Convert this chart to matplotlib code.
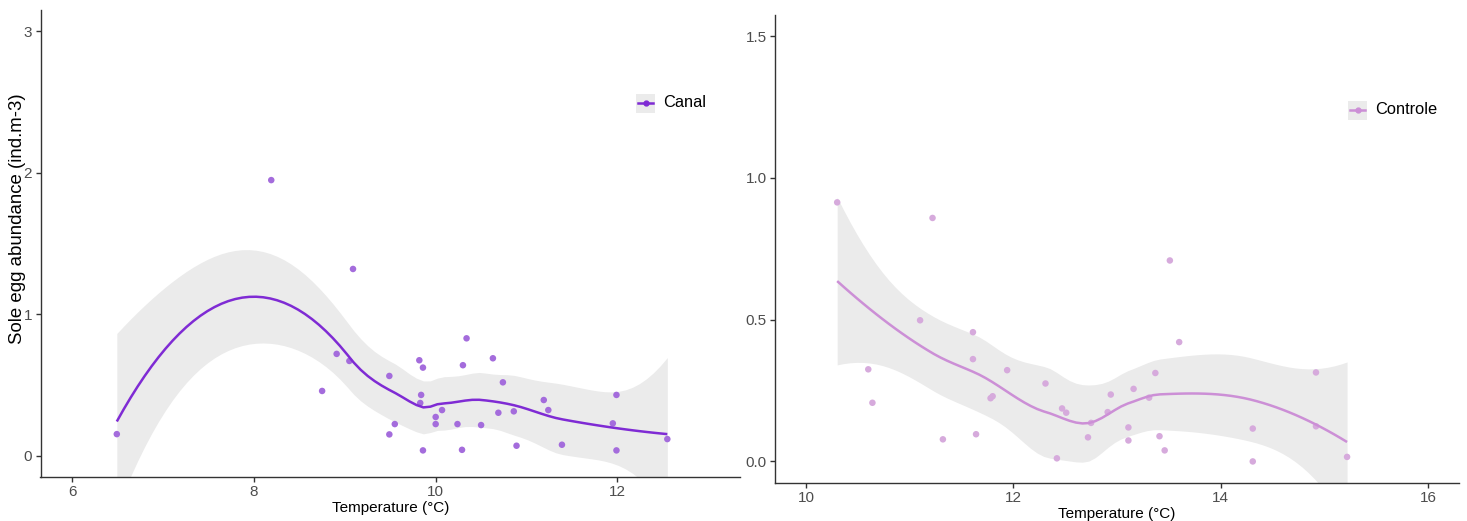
import numpy as np
import matplotlib
matplotlib.use("Agg")
import matplotlib.pyplot as plt
from matplotlib.patches import Rectangle
from matplotlib.lines import Line2D

plt.rcParams['font.family'] = ['Liberation Sans', 'DejaVu Sans']

# ---------------- data ----------------
canal_temp = [6.49, 8.19, 9.09, 8.91, 9.05, 8.75, 10.34, 9.49, 9.82, 9.86, 10.30, 10.63,
              10.74, 9.84, 9.83, 10.07, 10.00, 10.00, 9.55, 9.49, 9.86, 10.24, 10.50, 10.29,
              10.69, 10.86, 11.19, 11.24, 10.89, 11.39, 11.99, 11.95, 11.99, 12.55]
canal_abund = [0.153, 1.948, 1.32, 0.72, 0.67, 0.458, 0.83, 0.564, 0.675, 0.623, 0.64, 0.689,
               0.519, 0.43, 0.373, 0.323, 0.274, 0.224, 0.224, 0.151, 0.038, 0.224, 0.217, 0.042,
               0.304, 0.314, 0.394, 0.323, 0.071, 0.078, 0.43, 0.229, 0.038, 0.118]

controle_temp = [10.30, 11.22, 11.10, 11.61, 11.61, 10.60, 10.64, 11.94, 12.31, 11.78, 11.80,
                 11.32, 11.64, 12.47, 12.51, 12.42, 12.75, 12.72, 12.94, 12.91, 13.11, 13.11,
                 13.51, 13.60, 13.37, 13.16, 13.31, 13.41, 13.46, 14.31, 14.31, 14.92, 14.92, 15.22]
controle_abund = [0.914, 0.859, 0.498, 0.456, 0.361, 0.325, 0.207, 0.322, 0.275, 0.223, 0.230,
                  0.078, 0.096, 0.187, 0.172, 0.011, 0.136, 0.085, 0.236, 0.174, 0.120, 0.074,
                  0.709, 0.421, 0.312, 0.256, 0.225, 0.089, 0.039, 0.116, 0.0, 0.314, 0.124, 0.016]

left_xticks = [6, 8, 10, 12]
left_yticks = [0, 1, 2, 3]
right_xticks = [10, 12, 14, 16]
right_yticks = [0.0, 0.5, 1.0, 1.5]
right_ytick_labels = ["0.0", "0.5", "1.0", "1.5"]


# ------------- loess (span 0.75, degree 2, kd-tree interpolation like R) -------------
def _local_rows(x, x0, q):
    d = np.abs(x - x0)
    h = np.sort(d)[q - 1]
    u = d / h
    w = np.where(u < 1, (1 - u ** 3) ** 3, 0.0)
    X = np.column_stack([np.ones_like(x), x - x0, (x - x0) ** 2])
    A = X.T @ (w[:, None] * X)
    B = np.linalg.solve(A, X.T * w)
    return B[0], B[1]          # operator rows for value and slope at x0


def _kd_vertices(x, fc):
    xs = np.sort(x)
    n = len(xs)
    lo, hi = xs[0], xs[-1]
    mu = 0.005 * max(hi - lo, 1e-10)
    verts = {lo - mu, hi + mu}

    def split(l, u, vlo, vhi):           # 1-based inclusive indices
        if u - l + 1 <= fc:
            return
        m = (l + u) // 2
        off = 0
        while l <= m + off < u:
            if xs[m + off - 1] == xs[m + off]:
                off = -off
                if off >= 0:
                    off += 1
            else:
                m = m + off
                break
        s = xs[m - 1]
        if s == vlo or s == vhi:
            return
        verts.add(s)
        split(l, m, vlo, s)
        split(m + 1, u, s, vhi)

    split(1, n, lo - mu, hi + mu)
    return np.array(sorted(verts))


def _interp_rows(x, verts, V0, V1, xe):
    out = []
    for x0 in xe:
        j = np.searchsorted(verts, x0) - 1
        j = min(max(j, 0), len(verts) - 2)
        a, b = verts[j], verts[j + 1]
        dv = b - a
        hh = (x0 - a) / dv
        phi0 = (1 - hh) ** 2 * (1 + 2 * hh)
        phi1 = hh ** 2 * (3 - 2 * hh)
        psi0 = hh * (1 - hh) ** 2
        psi1 = -hh ** 2 * (1 - hh)
        out.append(phi0 * V0[j] + phi1 * V0[j + 1] + (psi0 * V1[j] + psi1 * V1[j + 1]) * dv)
    return np.array(out)


def loess_smooth(x, y, span=0.75, npts=80):
    x = np.asarray(x, float)
    y = np.asarray(y, float)
    n = len(x)
    q = int(np.floor(n * span))
    fc = int(np.floor(n * span * 0.2))
    verts = _kd_vertices(x, fc)
    V0, V1 = [], []
    for v in verts:
        r0, r1 = _local_rows(x, v, q)
        V0.append(r0)
        V1.append(r1)
    V0, V1 = np.array(V0), np.array(V1)
    L = _interp_rows(x, verts, V0, V1, x)
    r = y - L @ y
    IL = np.eye(n) - L
    M = IL.T @ IL
    d1 = np.trace(M)
    d2 = np.trace(M @ M)
    sigma = np.sqrt(np.sum(r ** 2) / d1)
    df = d1 ** 2 / d2
    z = 1.959964
    g1 = (z ** 3 + z) / 4
    g2 = (5 * z ** 5 + 16 * z ** 3 + 3 * z) / 96
    g3 = (3 * z ** 7 + 19 * z ** 5 + 17 * z ** 3 - 15 * z) / 384
    tq = z + g1 / df + g2 / df ** 2 + g3 / df ** 3
    xe = np.linspace(x.min(), x.max(), npts)
    rows = _interp_rows(x, verts, V0, V1, xe)
    fit = rows @ y
    se = sigma * np.sqrt(np.sum(rows ** 2, axis=1))
    return xe, fit, fit - tq * se, fit + tq * se


W, H = 1467, 521
fig = plt.figure(figsize=(W / 100, H / 100), dpi=100)


def fx(px):
    return px / W


def fy(py):
    return 1 - py / H


def make_axes(l, r, t, b):
    return fig.add_axes([fx(l), fy(b), fx(r) - fx(l), fy(t) - fy(b)])


ax1 = make_axes(40.5, 740, 10, 477)
ax2 = make_axes(775, 1459, 15, 482.7)

tick_col = '#4D4D4D'
band_col = '#EBEBEB'


def style(ax):
    for s in ['top', 'right']:
        ax.spines[s].set_visible(False)
    for s in ['left', 'bottom']:
        ax.spines[s].set_color('#333333')
        ax.spines[s].set_linewidth(1.0)
    ax.tick_params(axis='both', colors='#333333', length=3.5, width=1.0,
                   labelcolor=tick_col, labelsize=11, pad=2.5)
    ax.set_facecolor('white')


def draw_panel(ax, x, y, line_col, pt_col):
    xe, fit, lo, hi = loess_smooth(x, y)
    ax.scatter(x, y, s=22, color=pt_col, edgecolors='none', zorder=2)
    ax.fill_between(xe, lo, hi, color=band_col, lw=0, zorder=1)
    ax.plot(xe, fit, color=line_col, lw=1.8, zorder=3, solid_capstyle='butt')


# Left panel: Canal
canal_line = '#7F2BD4'
canal_pt = '#A46CDC'
draw_panel(ax1, canal_temp, canal_abund, canal_line, canal_pt)
ax1.set_xlim(5.65, 13.35)
ax1.set_ylim(-0.15, 3.15)
ax1.set_xticks(left_xticks)
ax1.set_yticks(left_yticks)
style(ax1)
ax1.set_xlabel('Temperature (°C)', fontsize=11, labelpad=1)
ax1.set_ylabel('Sole egg abundance (ind.m-3)', fontsize=13.4)
ax1.yaxis.set_label_coords((26 - 40.5) / (740 - 40.5), (477 - 219) / (477 - 10))

# Right panel: Controle
ctrl_line = '#CC8FD6'
ctrl_pt = '#D6AADC'
draw_panel(ax2, controle_temp, controle_abund, ctrl_line, ctrl_pt)
ax2.set_xlim(9.7, 16.3)
ax2.set_ylim(-0.075, 1.575)
ax2.set_xticks(right_xticks)
ax2.set_yticks(right_yticks)
ax2.set_yticklabels(right_ytick_labels)
style(ax2)
ax2.set_xlabel('Temperature (°C)', fontsize=11, labelpad=1.5)


# Legends (ggplot-style key with grey background)
def legend_key(x0, y0, label, line_col):
    size = 19
    fig.patches.append(Rectangle((fx(x0), fy(y0 + size)), size / W, size / H,
                                 transform=fig.transFigure, facecolor=band_col,
                                 edgecolor='none', zorder=5))
    cy = y0 + size / 2
    fig.lines.append(Line2D([fx(x0 + 2), fx(x0 + size - 2)], [fy(cy), fy(cy)],
                            transform=fig.transFigure, color=line_col, lw=1.8, zorder=6))
    fig.lines.append(Line2D([fx(x0 + size / 2)], [fy(cy)], transform=fig.transFigure,
                            marker='o', markersize=3.5, color=line_col, lw=0, zorder=7))
    fig.text(fx(x0 + size + 8), fy(cy), label, fontsize=11.8, va='center', ha='left',
             color='black')


legend_key(636, 93.5, 'Canal', canal_line)
legend_key(1348, 100.5, 'Controle', ctrl_line)

fig.savefig('out.png', dpi=100, facecolor='white')
